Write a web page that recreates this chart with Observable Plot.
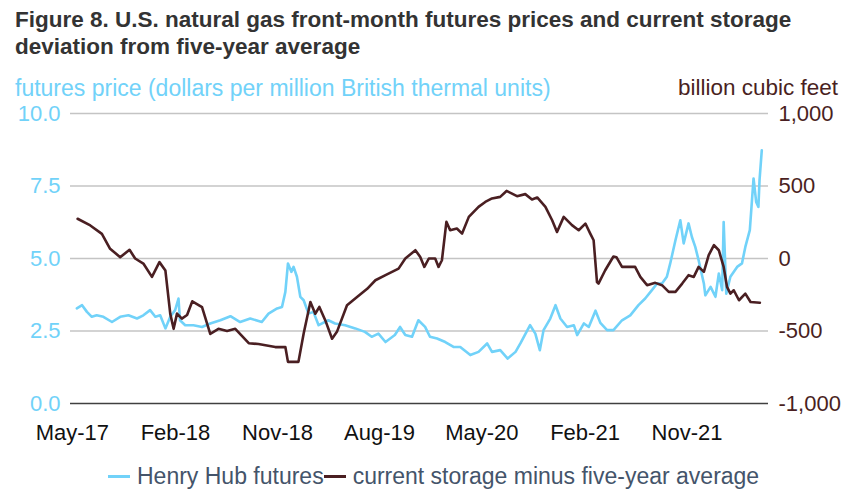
<!DOCTYPE html>
<html>
<head>
<meta charset="utf-8">
<script src="https://cdn.jsdelivr.net/npm/d3@7"></script>
<script src="https://cdn.jsdelivr.net/npm/@observablehq/plot@0.6"></script>
<style>
  html, body { margin: 0; padding: 0; background: #fff; }
  body { width: 844px; height: 491px; position: relative; overflow: hidden; font-family: "Liberation Sans", Arial, sans-serif; }
  .abs { position: absolute; white-space: nowrap; }
  #title { left: 15px; top: 6px; font-size: 22.5px; line-height: 27px; font-weight: bold; color: #333333; }
  #ylab { left: 15px; top: 74px; font-size: 23px; line-height: 28px; color: #71d2f9; }
  #y2lab { right: 6px; top: 74px; font-size: 22.5px; line-height: 28px; color: #4a1f22; }
  #chart { left: 0; top: 100px; }
  #legend { left: 108px; top: 462px; font-size: 23px; line-height: 28px; color: #44546a; display: flex; align-items: center; }
  .sw { display: inline-block; width: 22px; height: 3px; margin-right: 7px; }
</style>
</head>
<body>
<div id="title" class="abs">Figure 8. U.S. natural gas front-month futures prices and current storage<br>deviation from five-year average</div>
<div id="ylab" class="abs">futures price (dollars per million British thermal units)</div>
<div id="y2lab" class="abs">billion cubic feet</div>
<div id="chart" class="abs"></div>
<div id="legend" class="abs"><span class="sw" style="background:#71d2f9"></span><span>Henry Hub futures</span><span class="sw" style="background:#4a1f22"></span><span>current storage minus five-year average</span></div>
<script>
const BLUE = "#71d2f9";
const BROWN = "#4a1f22";

// Henry Hub front-month futures price, dollars/MMBtu
const hhDates = ["2017-05-13","2017-05-27","2017-06-09","2017-06-22","2017-07-05","2017-07-23","2017-08-15","2017-09-06","2017-09-28","2017-10-21","2017-11-07","2017-11-25","2017-12-09","2017-12-22","2018-01-05","2018-01-18","2018-01-31","2018-02-09","2018-02-13","2018-02-27","2018-03-21","2018-04-13","2018-05-05","2018-06-01","2018-06-28","2018-07-24","2018-08-20","2018-09-20","2018-10-08","2018-10-31","2018-11-13","2018-11-22","2018-11-29","2018-12-08","2018-12-14","2018-12-23","2019-01-01","2019-01-10","2019-01-23","2019-02-05","2019-02-19","2019-03-17","2019-04-04","2019-05-01","2019-05-28","2019-06-23","2019-07-11","2019-07-29","2019-08-17","2019-09-11","2019-09-25","2019-10-09","2019-10-27","2019-11-13","2019-12-01","2019-12-14","2020-01-02","2020-01-24","2020-02-15","2020-03-04","2020-03-31","2020-04-22","2020-05-15","2020-05-28","2020-06-19","2020-07-09","2020-07-30","2020-08-12","2020-09-07","2020-09-21","2020-10-03","2020-10-13","2020-10-31","2020-11-14","2020-11-27","2020-12-15","2021-01-02","2021-01-11","2021-01-29","2021-02-11","2021-03-01","2021-03-14","2021-04-01","2021-04-18","2021-05-11","2021-06-02","2021-06-24","2021-07-12","2021-07-30","2021-08-13","2021-08-26","2021-09-08","2021-09-17","2021-10-01","2021-10-14","2021-10-23","2021-11-05","2021-11-14","2021-11-23","2021-12-02","2021-12-16","2021-12-20","2022-01-03","2022-01-16","2022-01-25","2022-02-03","2022-02-07","2022-02-14","2022-02-25","2022-03-15","2022-03-28","2022-04-06","2022-04-18","2022-04-28","2022-05-05","2022-05-11","2022-05-14","2022-05-20"];
const hhPrices = [3.28,3.39,3.16,2.99,3.04,2.99,2.81,2.99,3.04,2.93,3.04,3.22,2.99,3.04,2.59,2.99,3.22,3.62,2.87,2.70,2.70,2.64,2.76,2.87,3.01,2.81,2.93,2.81,3.10,3.28,3.33,3.85,4.83,4.54,4.71,4.37,3.68,3.56,3.10,3.16,2.70,2.87,2.76,2.70,2.59,2.47,2.30,2.41,2.12,2.36,2.64,2.36,2.30,2.87,2.64,2.30,2.24,2.12,1.95,1.95,1.67,1.78,2.07,1.78,1.84,1.55,1.78,2.07,2.70,2.41,1.84,2.53,2.93,3.39,2.93,2.64,2.70,2.36,2.76,2.64,3.20,2.78,2.53,2.53,2.87,3.04,3.39,3.62,3.91,4.14,4.14,4.37,4.83,5.63,6.32,5.52,6.21,5.74,5.40,4.94,4.14,3.73,4.02,3.68,4.48,3.91,6.26,3.79,4.37,4.71,4.83,5.40,5.98,7.76,6.95,6.78,7.70,8.73];

// Working gas storage minus five-year average, billion cubic feet
const stDates = ["2017-05-15","2017-06-18","2017-07-19","2017-08-10","2017-09-06","2017-10-01","2017-10-16","2017-11-07","2017-11-30","2017-12-20","2018-01-05","2018-01-18","2018-01-27","2018-02-05","2018-02-18","2018-03-04","2018-03-18","2018-04-13","2018-05-05","2018-05-27","2018-06-19","2018-07-11","2018-08-16","2018-09-11","2018-10-26","2018-11-22","2018-11-29","2018-12-27","2019-01-10","2019-01-28","2019-02-10","2019-02-21","2019-03-09","2019-03-27","2019-04-09","2019-05-06","2019-05-28","2019-06-29","2019-07-21","2019-08-17","2019-09-21","2019-10-09","2019-11-05","2019-11-18","2019-11-29","2019-12-11","2019-12-28","2020-01-06","2020-01-15","2020-01-27","2020-02-06","2020-02-24","2020-03-09","2020-03-27","2020-04-22","2020-05-10","2020-05-28","2020-06-19","2020-07-06","2020-08-03","2020-08-25","2020-09-12","2020-09-26","2020-10-18","2020-11-05","2020-11-18","2020-12-06","2020-12-28","2021-01-15","2021-02-02","2021-02-15","2021-02-24","2021-03-05","2021-03-09","2021-03-27","2021-04-18","2021-04-26","2021-05-11","2021-06-02","2021-06-15","2021-06-29","2021-07-17","2021-08-08","2021-08-26","2021-09-13","2021-10-01","2021-10-19","2021-11-05","2021-11-19","2021-12-02","2021-12-16","2021-12-29","2022-01-12","2022-01-25","2022-02-07","2022-02-16","2022-02-25","2022-03-06","2022-03-20","2022-04-06","2022-04-20","2022-05-15"];
const stValues = [274,228,170,67,9,60,0,-35,-127,-25,-83,-382,-485,-380,-415,-390,-295,-336,-520,-485,-500,-485,-584,-590,-611,-611,-713,-713,-517,-300,-381,-334,-427,-553,-506,-322,-276,-209,-150,-115,-70,0,57,11,-58,0,0,-58,-12,253,195,207,172,287,356,390,414,425,466,430,444,407,421,356,264,183,287,230,195,241,172,126,-163,-173,-81,14,9,-58,-58,-58,-127,-184,-168,-184,-230,-230,-173,-115,-127,-58,-92,23,92,57,-58,-196,-242,-219,-288,-242,-300,-305];

// Axes
const priceTicks = [0, 2.5, 5, 7.5, 10];
const storageTicks = [-1000, -500, 0, 500, 1000];
const xTickDates = ["2017-05-01","2018-02-01","2018-11-01","2019-08-01","2020-05-01","2021-02-01","2021-11-01"];

const hh = hhDates.map((d, i) => ({date: new Date(d), price: hhPrices[i]}));
const st = stDates.map((d, i) => ({date: new Date(d), value: stValues[i]}));

// map storage (right axis) onto price scale (left axis)
const toPrice = v => (v + 1000) / 200;

const chart = Plot.plot({
  width: 844,
  height: 360,
  marginLeft: 70,
  marginRight: 76,
  marginTop: 13,
  marginBottom: 57,
  style: {fontFamily: '"Liberation Sans", Arial, sans-serif', fontSize: "22px", background: "transparent", overflow: "visible"},
  x: {type: "utc", domain: [new Date("2017-04-26"), new Date("2022-06-07")]},
  y: {domain: [0, 10]},
  marks: [
    Plot.gridY([2.5, 5, 7.5, 10], {stroke: "#c4c4c4", strokeOpacity: 1, strokeWidth: 1.5}),
    Plot.ruleY([0], {stroke: "#404040", strokeWidth: 1.5}),
    Plot.axisY(priceTicks, {anchor: "left", tickSize: 0, tickPadding: 10, fill: BLUE, fontSize: 22, tickFormat: d3.format(".1f"), label: null}),
    Plot.axisY(storageTicks.map(toPrice), {anchor: "right", tickSize: 0, tickPadding: 10, fill: BROWN, fontSize: 22, tickFormat: v => d3.format(",")(Math.round(v * 200 - 1000)).replace("−", "-"), label: null}),
    Plot.axisX(xTickDates.map(d => new Date(d)), {anchor: "bottom", tickSize: 0, tickPadding: 21, fill: "#111", fontSize: 22, tickFormat: d3.utcFormat("%b-%y"), label: null}),
    Plot.line(hh, {x: "date", y: "price", stroke: BLUE, strokeWidth: 2.6}),
    Plot.line(st, {x: "date", y: d => toPrice(d.value), stroke: BROWN, strokeWidth: 2.6})
  ]
});
document.getElementById("chart").appendChild(chart);
</script>
</body>
</html>
